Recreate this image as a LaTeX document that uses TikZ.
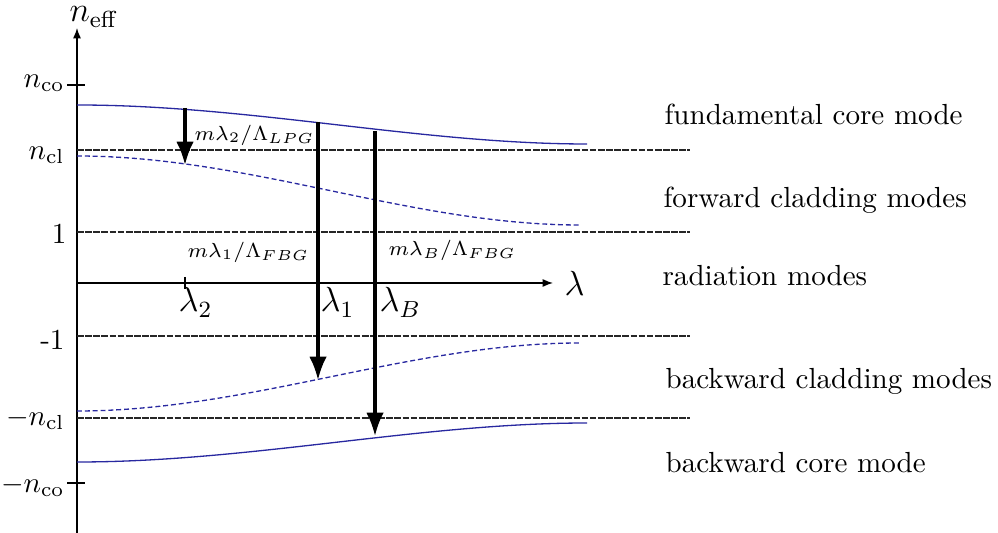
\documentclass[tikz,border=0pt]{standalone}
\usetikzlibrary{arrows.meta}
\definecolor{curveblue}{RGB}{40,40,160}
\begin{document}
\begin{tikzpicture}[x=0.344pt,y=-0.344pt,
  axisline/.style={line width=0.45pt,-{Latex[length=3.6pt,width=2.8pt]}},
  levelline/.style={black!85,line width=0.4pt,dash pattern=on 2.3pt off 0.5pt},
  coremode/.style={curveblue,line width=0.45pt},
  cladmode/.style={curveblue,line width=0.45pt,dash pattern=on 1.7pt off 1pt},
  transarrow/.style={line width=1.05pt,-{Latex[length=8pt,width=6pt]}},
  ticklbl/.style={inner sep=1pt},
  modelbl/.style={anchor=base west,inner sep=0pt},
  smalllbl/.style={font=\scriptsize,inner sep=0pt}]
\useasboundingbox (0,0) rectangle (998,533);
% axes
\coordinate (ybot) at (77,533);
\coordinate (ytop) at (77,28);
\coordinate (xl) at (77,283);
\coordinate (xr) at (553,283);
\draw[axisline] (ybot) -- (ytop);
\draw[axisline] (xl) -- (xr);
\node[anchor=base west,inner sep=0pt,font=\large] (neff) at (69,22) {$n_{\mathrm{eff}}$};
\node[anchor=west,inner sep=0pt,font=\large] (lam) at (564,283) {$\lambda$};
% level lines
\foreach \yy/\nm in {150/ncl,232/one,336/mone,418/mncl}{
  \coordinate (\nm L) at (77,\yy);
  \coordinate (\nm R) at (690,\yy);
  \draw[levelline] (\nm L) -- (\nm R);
}
% ticks
\coordinate (ncoA) at (67,85); \coordinate (ncoB) at (85,85);
\draw[line width=0.4pt] (ncoA) -- (ncoB);
\coordinate (mncoA) at (67,483); \coordinate (mncoB) at (85,483);
\draw[line width=0.4pt] (mncoA) -- (mncoB);
\coordinate (l2A) at (185,277); \coordinate (l2B) at (185,289);
\draw[line width=0.4pt] (l2A) -- (l2B);
% left labels
\node[ticklbl,anchor=east] (lnco) at (68,83) {$n_{\mathrm{co}}$};
\node[ticklbl,anchor=east] (lncl) at (68,155) {$n_{\mathrm{cl}}$};
\node[ticklbl,anchor=east] (lone) at (70,234) {1};
\node[ticklbl,anchor=east] (lmone) at (68,340) {-1};
\node[ticklbl,anchor=east] (lmncl) at (68,419) {$-n_{\mathrm{cl}}$};
\node[ticklbl,anchor=east] (lmnco) at (68,486) {$-n_{\mathrm{co}}$};
% mode curves
\coordinate (c1s) at (77,105); \coordinate (c1e) at (587,144);
\draw[coremode] (c1s) .. controls (250,105) and (420,144) .. (c1e);
\coordinate (c2s) at (77,156); \coordinate (c2e) at (580,225);
\draw[cladmode] (c2s) .. controls (250,156) and (410,225) .. (c2e);
\coordinate (c3s) at (77,411); \coordinate (c3e) at (580,343);
\draw[cladmode] (c3s) .. controls (250,411) and (410,343) .. (c3e);
\coordinate (c4s) at (77,462); \coordinate (c4e) at (587,423);
\draw[coremode] (c4s) .. controls (250,462) and (420,423) .. (c4e);
% transitions
\coordinate (a2s) at (185,108); \coordinate (a2e) at (185,165);
\coordinate (a1s) at (318,122); \coordinate (a1e) at (318,380);
\coordinate (aBs) at (375,131); \coordinate (aBe) at (375,436);
\draw[transarrow] (a2s) -- (a2e);
\draw[transarrow] (a1s) -- (a1e);
\draw[transarrow] (aBs) -- (aBe);
% lambda labels
\node[anchor=north west,inner sep=0pt,font=\large] (lam2) at (178,287) {$\lambda_2$};
\node[anchor=north west,inner sep=0pt,font=\large] (lam1) at (320,287) {$\lambda_1$};
\node[anchor=north west,inner sep=0pt,font=\large] (lamB) at (379,287) {$\lambda_B$};
% small labels
\node[smalllbl,anchor=west] (t2) at (194,135) {$m\lambda_2/\Lambda_{LPG}$};
\node[smalllbl,anchor=west] (t1) at (187,252) {$m\lambda_1/\Lambda_{FBG}$};
\node[smalllbl,anchor=west] (tB) at (388,250) {$m\lambda_B/\Lambda_{FBG}$};
% mode labels
\node[modelbl] (m1) at (664,125) {fundamental core mode};
\node[modelbl] (m2) at (663,208) {forward cladding modes};
\node[modelbl] (m3) at (662,286) {radiation modes};
\node[modelbl] (m4) at (665,389) {backward cladding modes};
\node[modelbl] (m5) at (665,472) {backward core mode};
\end{tikzpicture}
\end{document}
